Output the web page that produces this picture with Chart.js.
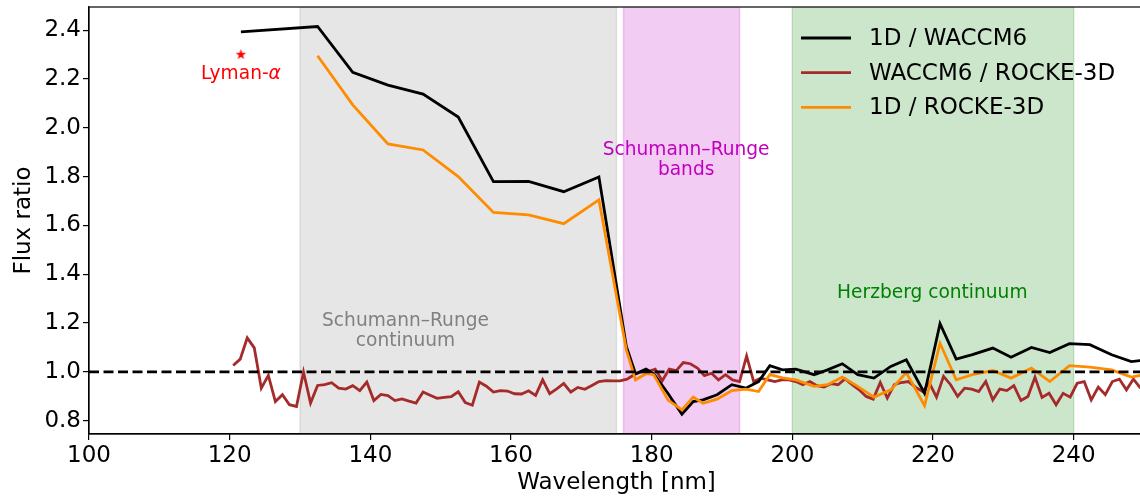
<!DOCTYPE html>
<html>
<head>
<meta charset="utf-8">
<script src="https://cdn.jsdelivr.net/npm/chart.js@4.4.0/dist/chart.umd.min.js"></script>
<style>
  html, body { margin: 0; padding: 0; background: #fff; overflow: hidden; }
  canvas { display: block; }
</style>
</head>
<body>
<canvas id="fluxChart" width="1149" height="501"></canvas>
<script>
// WACCM6 / ROCKE-3D, ~1 nm bins
const waveFine = [
  120.5, 121.5, 122.5, 123.5, 124.5, 125.5, 126.5, 127.5, 128.5, 129.5,
  130.5, 131.5, 132.5, 133.5, 134.5, 135.5, 136.5, 137.5, 138.5, 139.5,
  140.5, 141.5, 142.5, 143.5, 144.5, 145.5, 146.5, 147.5, 148.5, 149.5,
  150.5, 151.5, 152.5, 153.5, 154.5, 155.5, 156.5, 157.5, 158.5, 159.5,
  160.5, 161.5, 162.5, 163.5, 164.5, 165.5, 166.5, 167.5, 168.5, 169.5,
  170.5, 171.5, 172.5, 173.5, 174.5, 175.5, 176.5, 177.5, 178.5, 179.5,
  180.5, 181.5, 182.5, 183.5, 184.5, 185.5, 186.5, 187.5, 188.5, 189.5,
  190.5, 191.5, 192.5, 193.5, 194.5, 195.5, 196.5, 197.5, 198.5, 199.5,
  200.5, 201.5, 202.5, 203.5, 204.5, 205.5, 206.5, 207.5, 208.5, 209.5,
  210.5, 211.5, 212.5, 213.5, 214.5, 215.5, 216.5, 217.5, 218.5, 219.5,
  220.5, 221.5, 222.5, 223.5, 224.5, 225.5, 226.5, 227.5, 228.5, 229.5,
  230.5, 231.5, 232.5, 233.5, 234.5, 235.5, 236.5, 237.5, 238.5, 239.5,
  240.5, 241.5, 242.5, 243.5, 244.5, 245.5, 246.5, 247.5, 248.5, 249.5
];
const ratioWaccmRocke = [
  1.026, 1.052, 1.139, 1.098, 0.933, 0.985, 0.878, 0.906, 0.865, 0.858,
  0.999, 0.872, 0.944, 0.947, 0.955, 0.933, 0.929, 0.943, 0.923, 0.958,
  0.882, 0.907, 0.902, 0.882, 0.889, 0.880, 0.872, 0.917, 0.904, 0.891,
  0.895, 0.898, 0.918, 0.874, 0.863, 0.958, 0.941, 0.917, 0.923, 0.921,
  0.910, 0.909, 0.922, 0.903, 0.967, 0.910, 0.930, 0.952, 0.917, 0.936,
  0.928, 0.944, 0.960, 0.964, 0.963, 0.963, 0.970, 0.988, 1.000, 1.001,
  1.011, 0.963, 1.011, 1.005, 1.038, 1.033, 1.015, 0.984, 0.994, 0.967,
  0.988, 0.967, 0.960, 1.065, 0.960, 0.974, 0.967, 0.960, 0.967, 0.967,
  0.960, 0.947, 0.960, 0.943, 0.937, 0.951, 0.947, 0.971, 0.947, 0.926,
  0.899, 0.888, 0.956, 0.892, 0.947, 0.956, 0.960, 0.937, 0.919, 0.953,
  0.896, 0.981, 0.947, 0.899, 0.933, 0.929, 0.919, 0.960, 0.885, 0.929,
  0.923, 0.943, 0.882, 0.899, 0.978, 0.895, 0.912, 0.865, 0.912, 0.896,
  0.953, 0.960, 0.885, 0.937, 0.906, 0.960, 0.970, 0.926, 0.970, 0.933
];

// 1D model ratios, coarser grid
const waveCoarse = [
  121.6, 132.5, 137.5, 142.5, 147.5, 152.5, 157.5, 162.5, 167.5, 172.5,
  176.4, 177.7, 179.2, 180.3, 182.3, 184.3, 185.9, 187.3, 189.3, 191.4,
  193.4, 195.2, 196.8, 198.6, 200.5, 203.1, 205.0, 207.1, 209.3, 211.6,
  214.0, 216.2, 218.8, 221.0, 223.3, 225.6, 228.5, 231.1, 234.0, 236.6,
  239.4, 242.3, 245.4, 248.2, 250.4
];
const ratio1dWaccm = [
  2.393, 2.415, 2.227, 2.175, 2.138, 2.044, 1.779, 1.780, 1.738, 1.798,
  1.104, 0.992, 1.011, 0.992, 0.912, 0.826, 0.878, 0.885, 0.906, 0.947,
  0.933, 0.960, 1.025, 1.008, 1.011, 0.988, 1.008, 1.033, 0.988, 0.974,
  1.022, 1.049, 0.912, 1.197, 1.052, 1.070, 1.097, 1.060, 1.100, 1.079,
  1.115, 1.111, 1.070, 1.042, 1.049
];
const ratio1dRocke = [
  null, 2.295, 2.094, 1.934, 1.909, 1.800, 1.653, 1.643, 1.607, 1.705,
  1.090, 0.967, 0.992, 0.988, 0.885, 0.844, 0.896, 0.871, 0.888, 0.923,
  0.929, 0.919, 0.988, 0.975, 0.967, 0.940, 0.947, 0.978, 0.940, 0.896,
  0.926, 0.997, 0.861, 1.117, 0.967, 0.988, 1.005, 0.974, 1.015, 0.960,
  1.025, 1.019, 1.008, 0.978, 0.990
];

const lymanX = [121.6];
const lymanY = [2.3];
const refX = [100, 250];
const refY = [1.0, 1.0];

const xTicks = [100, 120, 140, 160, 180, 200, 220, 240];
const yTicks = [0.8, 1.0, 1.2, 1.4, 1.6, 1.8, 2.0, 2.2, 2.4];

// absorption bands (nm)
const bandStart = [130, 176, 200];
const bandEnd = [175, 192.5, 240];
const bandNames = [["Schumann–Runge", "continuum"], ["Schumann–Runge", "bands"], ["Herzberg continuum"]];

const FONT = "'DejaVu Sans', 'Liberation Sans', sans-serif";
const bandFill = ["rgba(128,128,128,0.2)", "rgba(191,0,191,0.2)", "rgba(0,128,0,0.2)"];
const bandText = ["#808080", "#c000c0", "#008000"];
// where the band labels sit (data coords, baselines)
const bandLabelPos = [
  { x: 145.0, y: [1.186, 1.104] },
  { x: 184.9, y: [1.889, 1.805] },
  { x: 219.9, y: [1.302] }
];

function pts(xs, ys) {
  return xs.map((x, i) => ({ x: x, y: ys[i] }));
}

// filled star like matplotlib '*'
function makeStar(r, color) {
  const c = document.createElement("canvas");
  c.width = c.height = Math.ceil(r * 2 + 2);
  const g = c.getContext("2d");
  const cx = c.width / 2, cy = c.height / 2;
  g.beginPath();
  for (let i = 0; i < 10; i++) {
    const rad = i % 2 === 0 ? r : r * 0.4;
    const a = -Math.PI / 2 + i * Math.PI / 5;
    g.lineTo(cx + rad * Math.cos(a), cy + rad * Math.sin(a));
  }
  g.closePath();
  g.fillStyle = color;
  g.fill();
  return c;
}

const bandsPlugin = {
  id: "bands",
  beforeDatasetsDraw(chart) {
    const { ctx, chartArea: a, scales: { x } } = chart;
    ctx.save();
    bandStart.forEach((s, i) => {
      const x0 = x.getPixelForValue(s);
      const x1 = x.getPixelForValue(bandEnd[i]);
      ctx.fillStyle = bandFill[i];
      ctx.fillRect(x0, a.top, x1 - x0, a.bottom - a.top);
      ctx.strokeStyle = bandFill[i];
      ctx.lineWidth = 1.4;
      ctx.beginPath();
      ctx.moveTo(x0, a.top); ctx.lineTo(x0, a.bottom);
      ctx.moveTo(x1, a.top); ctx.lineTo(x1, a.bottom);
      ctx.stroke();
    });
    ctx.restore();
  },
  afterDatasetsDraw(chart) {
    const { ctx, chartArea: a, scales: { x, y } } = chart;
    ctx.save();
    ctx.textAlign = "center";
    ctx.textBaseline = "alphabetic";
    ctx.font = "18.6px " + FONT;
    bandNames.forEach((lines, i) => {
      ctx.fillStyle = bandText[i];
      lines.forEach((t, j) => {
        ctx.fillText(t, x.getPixelForValue(bandLabelPos[i].x), y.getPixelForValue(bandLabelPos[i].y[j]));
      });
    });

    // Lyman-alpha label, alpha in italic
    ctx.fillStyle = "#ff0000";
    const part1 = "Lyman-";
    ctx.font = "18.6px " + FONT;
    const w1 = ctx.measureText(part1).width;
    ctx.font = "italic 18.6px " + FONT;
    const w2 = ctx.measureText("α").width;
    const lx = x.getPixelForValue(121.6) - (w1 + w2) / 2;
    const ly = y.getPixelForValue(2.200);
    ctx.textAlign = "left";
    ctx.font = "18.6px " + FONT;
    ctx.fillText(part1, lx, ly);
    ctx.font = "italic 18.6px " + FONT;
    ctx.fillText("α", lx + w1, ly);

    // frame (top / right spines)
    ctx.strokeStyle = "#000";
    ctx.lineWidth = 1.2;
    ctx.strokeRect(a.left, a.top, a.right - a.left, a.bottom - a.top);
    ctx.restore();
  },
  afterDraw(chart) {
    const { ctx } = chart;
    const items = chart.data.datasets.filter(d => d.inLegend);
    ctx.save();
    ctx.font = "23px " + FONT;
    ctx.textBaseline = "middle";
    ctx.textAlign = "left";
    items.forEach((d, i) => {
      const yy = 38 + i * 34.7;
      ctx.strokeStyle = d.borderColor;
      ctx.lineWidth = 2.8;
      ctx.beginPath();
      ctx.moveTo(801, yy);
      ctx.lineTo(851, yy);
      ctx.stroke();
      ctx.fillStyle = "#000";
      ctx.fillText(d.label, 869, yy + 1);
    });
    ctx.restore();
  }
};

const ctx = document.getElementById("fluxChart").getContext("2d");
new Chart(ctx, {
  type: "line",
  data: {
    datasets: [
      {
        label: "1D / WACCM6",
        data: pts(waveCoarse, ratio1dWaccm),
        borderColor: "#000000",
        borderWidth: 2.8,
        pointRadius: 0,
        inLegend: true,
        order: 2
      },
      {
        label: "WACCM6 / ROCKE-3D",
        data: pts(waveFine, ratioWaccmRocke),
        borderColor: "#a52a2a",
        borderWidth: 2.8,
        pointRadius: 0,
        inLegend: true,
        order: 3
      },
      {
        label: "1D / ROCKE-3D",
        data: pts(waveCoarse, ratio1dRocke),
        borderColor: "#ff8c00",
        borderWidth: 2.8,
        pointRadius: 0,
        inLegend: true,
        order: 1
      },
      {
        label: "ref",
        data: pts(refX, refY),
        borderColor: "#000",
        borderWidth: 2.8,
        borderDash: [10, 4.5],
        pointRadius: 0,
        order: 0
      },
      {
        label: "Lyman",
        type: "scatter",
        data: pts(lymanX, lymanY),
        pointStyle: makeStar(5.5, "#ff0000"),
        order: 0
      }
    ]
  },
  options: {
    responsive: false,
    animation: false,
    layout: { padding: { top: 7, right: 0, left: 0, bottom: 0 } },
    plugins: {
      legend: { display: false },
      tooltip: { enabled: false }
    },
    scales: {
      x: {
        type: "linear",
        min: 100,
        max: 250,
        afterBuildTicks: s => { s.ticks = xTicks.map(v => ({ value: v })); },
        afterFit: s => { s.height = 67; s.paddingLeft = 0; s.paddingRight = 0; },
        grid: { drawOnChartArea: false, drawTicks: true, tickLength: 6, color: "#000", lineWidth: 1.2 },
        border: { display: true, color: "#000", width: 1.2 },
        ticks: { color: "#000", font: { family: FONT, size: 23 }, padding: 2, maxRotation: 0, autoSkip: false },
        title: { display: true, text: "Wavelength [nm]", color: "#000", font: { family: FONT, size: 23 }, padding: { top: 0, bottom: 4 } }
      },
      y: {
        type: "linear",
        min: 0.745,
        max: 2.495,
        afterBuildTicks: s => { s.ticks = yTicks.map(v => ({ value: v })); },
        afterFit: s => { s.width = 89; s.paddingTop = 0; s.paddingBottom = 0; },
        grid: { drawOnChartArea: false, drawTicks: true, tickLength: 6, color: "#000", lineWidth: 1.2 },
        border: { display: true, color: "#000", width: 1.2 },
        ticks: { color: "#000", font: { family: FONT, size: 23 }, padding: 2, callback: v => v.toFixed(1) },
        title: { display: true, text: "Flux ratio", color: "#000", font: { family: FONT, size: 23 }, padding: { top: 10, bottom: 0 } }
      }
    }
  },
  plugins: [bandsPlugin]
});
</script>
</body>
</html>
